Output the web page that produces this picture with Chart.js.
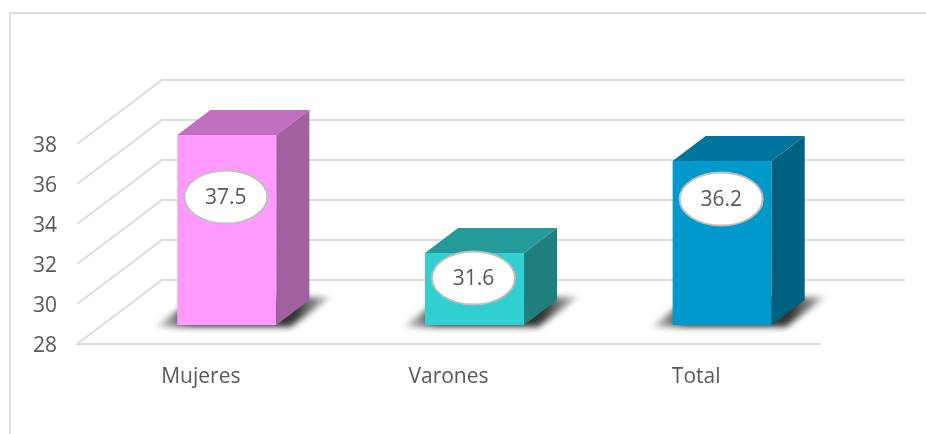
<!DOCTYPE html>
<html>
<head>
<meta charset="utf-8">
<title>Mujeres, Varones, Total</title>
<script src="https://cdn.jsdelivr.net/npm/chart.js@4/dist/chart.umd.min.js"></script>
<style>
  body { margin: 0; background: #fff; }
  #wrap { position: relative; width: 926px; height: 434px; overflow: hidden; }
  #frame { position: absolute; left: 9px; top: 12px; width: 917px; height: 422px;
           border-top: 2px solid #dedede; border-left: 2px solid #dedede; }
  #chart { position: absolute; left: 0; top: 0; }
</style>
</head>
<body>
<div id="wrap">
  <div id="frame"></div>
  <canvas id="chart" width="926" height="434"></canvas>
</div>
<script>
const categories = ['Mujeres', 'Varones', 'Total'];
const values = [37.5, 31.6, 36.2];
const axisMin = 28;
const axisMax = 38;
const axisStep = 2;

// colours per bar
const frontColors = ['#FF99FF', '#31CFCF', '#0099CC'];
const topColors = ['#BF70BF', '#259A9A', '#00739F'];
const sideColors = ['#A1609F', '#1F807E', '#006080'];

const gridColor = '#dcdcdc';
const textColor = '#595959';
const fontFamily = '"Open Sans", sans-serif';

// fake 3D: wall depth, where the bars stand on the floor, and bar depth
const wallDx = 85, wallDy = 64;
const barDx = 26, barDy = 19;
const depthDx = 33, depthDy = 25;
// how far below the top of each bar the label sits
const labelDrop = [62, 25, 38];

const fake3d = {
  id: 'fake3d',
  beforeDatasetsDraw(chart) {
    const { ctx, scales: { x, y } } = chart;
    // wall lines and the diagonals running up from the axis
    ctx.save();
    ctx.strokeStyle = gridColor;
    ctx.lineWidth = 2;
    y.ticks.forEach(t => {
      const py = y.getPixelForValue(t.value);
      ctx.beginPath();
      ctx.moveTo(x.left, py);
      ctx.lineTo(x.left + wallDx, py - wallDy);
      ctx.lineTo(x.right + wallDx, py - wallDy);
      ctx.stroke();
    });
    ctx.restore();

    // floor shadows, fading out towards both ends
    chart.getDatasetMeta(0).data.forEach(bar => {
      const left = bar.x - bar.width / 2 + barDx;
      const right = left + bar.width;
      const floor = bar.base - barDy;
      const fade = ctx.createLinearGradient(left - 22, 0, right + 54, 0);
      fade.addColorStop(0, 'rgba(40,40,40,0.15)');
      fade.addColorStop(0.2, 'rgba(30,30,30,0.9)');
      fade.addColorStop(0.8, 'rgba(30,30,30,0.9)');
      fade.addColorStop(1, 'rgba(40,40,40,0.25)');
      ctx.save();
      ctx.filter = 'blur(3px)';
      ctx.fillStyle = fade;
      ctx.beginPath();
      ctx.moveTo(left - 22, floor + 2);
      ctx.lineTo(right + 14, floor + 2);
      ctx.lineTo(right + 54, floor - 28);
      ctx.lineTo(left + 18, floor - 28);
      ctx.closePath();
      ctx.fill();
      ctx.restore();
    });
  },
  beforeDatasetDraw(chart) {
    chart.ctx.save();
    chart.ctx.translate(barDx, -barDy);
  },
  afterDatasetDraw(chart, args) {
    const { ctx } = chart;
    args.meta.data.forEach((bar, i) => {
      const l = bar.x - bar.width / 2, r = bar.x + bar.width / 2;
      ctx.fillStyle = topColors[i];
      ctx.beginPath();
      ctx.moveTo(l, bar.y);
      ctx.lineTo(l + depthDx, bar.y - depthDy);
      ctx.lineTo(r + depthDx, bar.y - depthDy);
      ctx.lineTo(r, bar.y);
      ctx.closePath();
      ctx.fill();

      ctx.fillStyle = sideColors[i];
      ctx.beginPath();
      ctx.moveTo(r, bar.y);
      ctx.lineTo(r + depthDx, bar.y - depthDy);
      ctx.lineTo(r + depthDx, bar.base - depthDy);
      ctx.lineTo(r, bar.base);
      ctx.closePath();
      ctx.fill();
    });
    ctx.restore();
  },
  afterDatasetsDraw(chart) {
    const { ctx } = chart;
    // value labels in white ovals
    chart.getDatasetMeta(0).data.forEach((bar, i) => {
      const cx = bar.x + barDx - 1;
      const cy = bar.y - barDy + labelDrop[i];
      ctx.save();
      ctx.beginPath();
      ctx.ellipse(cx, cy, 41.5, 26.5, 0, 0, Math.PI * 2);
      ctx.fillStyle = '#fff';
      ctx.fill();
      ctx.lineWidth = 2;
      ctx.strokeStyle = '#bfbfbf';
      ctx.stroke();
      ctx.fillStyle = textColor;
      ctx.font = '21px ' + fontFamily;
      ctx.textAlign = 'center';
      ctx.textBaseline = 'middle';
      ctx.fillText(values[i].toFixed(1), cx, cy + 1);
      ctx.restore();
    });
  }
};

new Chart(document.getElementById('chart').getContext('2d'), {
  type: 'bar',
  data: {
    labels: categories,
    datasets: [{
      data: values,
      base: axisMin,
      backgroundColor: frontColors,
      barPercentage: 0.4,
      categoryPercentage: 1,
      clip: false
    }]
  },
  plugins: [fake3d],
  options: {
    responsive: false,
    animation: false,
    layout: { padding: { left: 0, right: 106, top: 144, bottom: 0 } },
    plugins: { legend: { display: false }, tooltip: { enabled: false } },
    scales: {
      x: {
        grid: { display: false },
        border: { color: gridColor, width: 2 },
        ticks: { color: textColor, font: { family: fontFamily, size: 21 }, padding: 12 },
        afterFit(s) { s.height = 90; }
      },
      y: {
        min: axisMin,
        max: axisMax,
        grid: { display: false },
        border: { display: false },
        ticks: { stepSize: axisStep, color: textColor, font: { family: fontFamily, size: 21 }, padding: 12, labelOffset: 2 },
        afterFit(s) { s.width = 77; }
      }
    }
  }
});
</script>
</body>
</html>
